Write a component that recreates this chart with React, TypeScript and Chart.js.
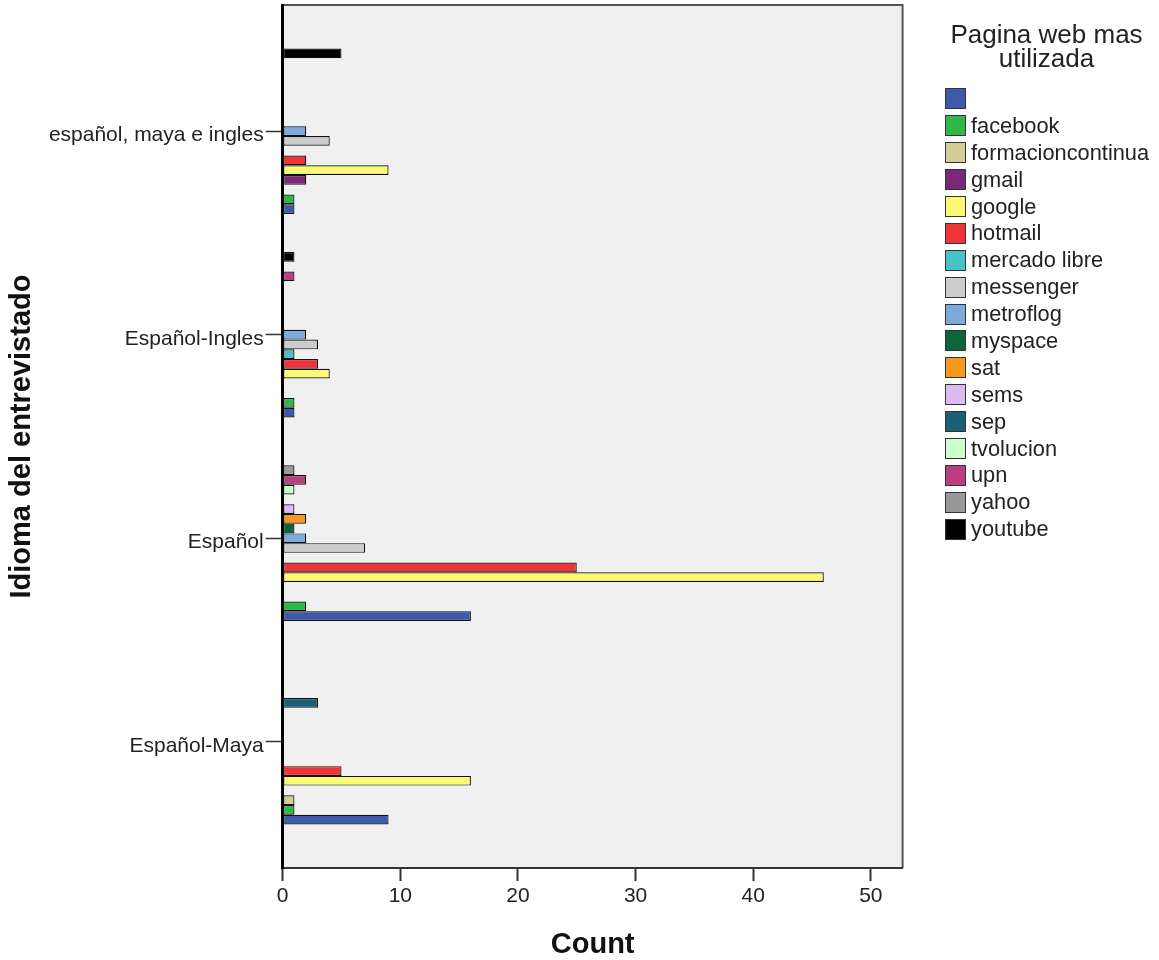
import React, { useEffect, useRef } from "react";
import { Chart, registerables } from "chart.js";

Chart.register(...registerables);

const idiomas = ["español, maya e ingles", "Español-Ingles", "Español", "Español-Maya"];
const paginas = [
  "", "facebook", "formacioncontinua", "gmail", "google", "hotmail", "mercado libre",
  "messenger", "metroflog", "myspace", "sat", "sems", "sep", "tvolucion", "upn", "yahoo", "youtube",
];
const colores = [
  "#3E58AC", "#2EB848", "#D3CE97", "#79287A", "#FBF873", "#EF3338", "#48C2C5",
  "#CCCCCC", "#7BAADD", "#0B6539", "#F8981D", "#DDBAF1", "#1A5F76", "#CCFFCC",
  "#BB3F7F", "#999999", "#000000",
];

// counts per web page, in the order of idiomas
const sinNombre = [1, 1, 16, 9];
const facebook = [1, 1, 2, 1];
const formacioncontinua = [0, 0, 0, 1];
const gmail = [2, 0, 0, 0];
const google = [9, 4, 46, 16];
const hotmail = [2, 3, 25, 5];
const mercadoLibre = [0, 1, 0, 0];
const messenger = [4, 3, 7, 0];
const metroflog = [2, 2, 2, 0];
const myspace = [0, 0, 1, 0];
const sat = [0, 0, 2, 0];
const sems = [0, 0, 1, 0];
const sep = [0, 0, 0, 3];
const tvolucion = [0, 0, 1, 0];
const upn = [0, 1, 2, 0];
const yahoo = [0, 0, 1, 0];
const youtube = [5, 1, 0, 0];

const series = [
  sinNombre, facebook, formacioncontinua, gmail, google, hotmail, mercadoLibre,
  messenger, metroflog, myspace, sat, sems, sep, tvolucion, upn, yahoo, youtube,
];

const xTicks = [0, 10, 20, 30, 40, 50];

const FONT = '"Liberation Sans", Arial, sans-serif';

const plotFrame = {
  id: "plotFrame",
  beforeDraw(chart: any) {
    const { ctx, chartArea } = chart;
    ctx.save();
    ctx.fillStyle = "#F0F0F0";
    ctx.fillRect(chartArea.left, chartArea.top, chartArea.right - chartArea.left, chartArea.bottom - chartArea.top);
    ctx.strokeStyle = "#555555";
    ctx.lineWidth = 2;
    ctx.beginPath();
    ctx.moveTo(chartArea.left, chartArea.top);
    ctx.lineTo(chartArea.right, chartArea.top);
    ctx.lineTo(chartArea.right, chartArea.bottom);
    ctx.stroke();
    ctx.restore();
  },
};

export default function App() {
  const ref = useRef<HTMLCanvasElement | null>(null);

  useEffect(() => {
    if (!ref.current) return;
    // Chart.js places dataset 0 at the top of each group; SPSS puts it at the bottom.
    const order = series.map((_, i) => i).reverse();
    const datasets = order.map((i) => ({
      label: paginas[i],
      data: series[i].map((v, c) => ({ x: v === 0 ? null : v, y: c })),
      backgroundColor: colores[i],
      borderColor: "#111111",
      borderWidth: 1.2,
      borderSkipped: false,
      inflateAmount: 0,
    }));

    const chart = new Chart(ref.current, {
      type: "bar",
      data: { datasets } as any,
      plugins: [plotFrame],
      options: {
        indexAxis: "y",
        animation: false,
        responsive: false,
        events: [],
        layout: { padding: { left: 0, top: 5, right: 256.4, bottom: 0 } },
        datasets: {
          bar: { categoryPercentage: 0.813, barPercentage: 1, grouped: true },
        },
        plugins: { legend: { display: false }, tooltip: { enabled: false }, title: { display: false } },
        scales: {
          x: {
            type: "linear",
            position: "bottom",
            min: 0,
            max: 52.7,
            offset: false,
            grid: { offset: false, drawOnChartArea: false, drawTicks: true, tickLength: 13, tickColor: "#333333", tickWidth: 2 },
            border: { display: true, color: "#333333", width: 2, z: 1 },
            ticks: {
              stepSize: 10,
              includeBounds: false,
              padding: 3,
              color: "#222222",
              font: { family: FONT, size: 21 },
            },
            afterBuildTicks: (axis: any) => {
              axis.ticks = xTicks.map((v) => ({ value: v }));
            },
            title: {
              display: true,
              text: "Count",
              color: "#111111",
              font: { family: FONT, size: 29, weight: "bold", lineHeight: 1.0 },
              padding: { top: 0, bottom: 1 },
            },
            afterFit: (s: any) => {
              s.height = 92;
              s.paddingLeft = 0;
              s.paddingRight = 0;
            },
          },
          y: {
            type: "linear",
            position: "left",
            reverse: true,
            min: -0.62,
            max: 3.62,
            offset: false,
            grid: { offset: false, drawOnChartArea: false, drawTicks: true, tickLength: 17, tickColor: "#333333", tickWidth: 1.5 },
            border: { display: true, color: "#000000", width: 3, z: 2 },
            afterBuildTicks: (axis: any) => {
              axis.ticks = idiomas.map((_, i) => ({ value: i }));
            },
            ticks: {
              padding: 2,
              labelOffset: 4,
              color: "#222222",
              font: { family: FONT, size: 21 },
              callback: (v: any) => idiomas[v] ?? "",
            },
            title: {
              display: true,
              text: "Idioma del entrevistado",
              color: "#111111",
              font: { family: FONT, size: 29, weight: "bold" },
              padding: { top: 5, bottom: 0 },
            },
            afterFit: (s: any) => {
              s.width = 282.7;
              s.paddingTop = 0;
              s.paddingBottom = 0;
            },
          },
        },
      } as any,
    });
    return () => chart.destroy();
  }, []);

  return (
    <div style={{ position: "absolute", left: 0, top: 0, width: 1159, height: 960, background: "#fff", overflow: "hidden" }}>
      <canvas ref={ref} width={1159} height={960} style={{ display: "block" }} />
      <div style={{ position: "absolute", left: 940, top: 22, width: 213, fontFamily: FONT, color: "#222" }}>
        <div style={{ textAlign: "center", fontSize: 26, lineHeight: "24px" }}>
          Pagina web mas
          <br />
          utilizada
        </div>
        <div style={{ marginTop: 15.5, paddingLeft: 5 }}>
          {paginas.map((p, i) => (
            <div key={i} style={{ display: "flex", alignItems: "center", height: 26.9 }}>
              <div
                style={{
                  width: 19,
                  height: 19,
                  background: colores[i],
                  border: "1px solid #333",
                  marginRight: 5,
                  flex: "none",
                }}
              />
              <span style={{ fontSize: 21.8, lineHeight: "24px", whiteSpace: "nowrap" }}>{p}</span>
            </div>
          ))}
        </div>
      </div>
    </div>
  );
}
